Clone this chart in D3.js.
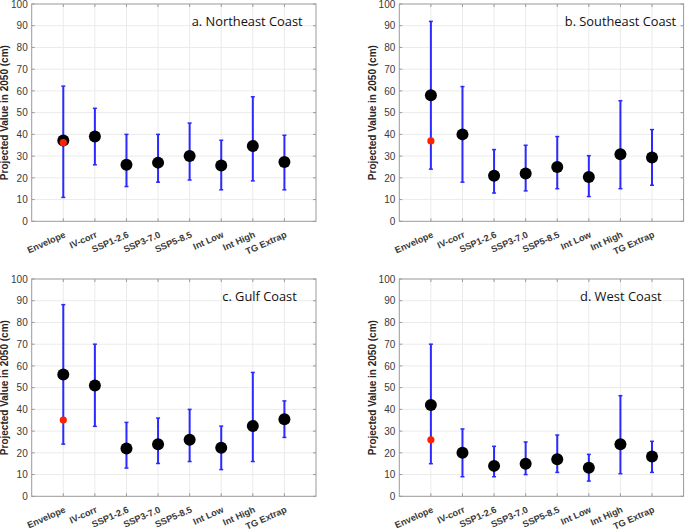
<!DOCTYPE html>
<html>
<head>
<meta charset="utf-8">
<script src="https://cdn.jsdelivr.net/npm/d3@7"></script>
<style>
  html, body { margin: 0; padding: 0; background: #fff; }
  svg { display: block; }
</style>
</head>
<body>
<svg id="chart" width="685" height="530"></svg>
<script>
// ---------------- data ----------------
const categories = ["Envelope", "IV-corr", "SSP1-2.6", "SSP3-7.0", "SSP5-8.5", "Int Low", "Int High", "TG Extrap"];
const yTicks = [0, 10, 20, 30, 40, 50, 60, 70, 80, 90, 100];
const panelTitles = ["a. Northeast Coast", "b. Southeast Coast", "c. Gulf Coast", "d. West Coast"];
const yLabel = "Projected Value in 2050 (cm)";

// a. Northeast Coast
const neCentral = [37.2, 39, 26, 27, 30, 25.7, 34.7, 27.3];
const neLow     = [11, 26, 16, 18, 19, 14.5, 18.6, 14.5];
const neHigh    = [62.2, 52, 40, 40, 45.2, 37.3, 57.3, 39.6];
const neEnvelopeRed = 36.2;

// b. Southeast Coast
const seCentral = [58, 40, 21, 22, 25, 20.4, 30.9, 29.4];
const seLow     = [24, 18, 13, 14, 15, 11.4, 15, 16.6];
const seHigh    = [92, 62, 33, 35, 39, 30.2, 55.5, 42.2];
const seEnvelopeRed = 37;

// c. Gulf Coast
const gcCentral = [56, 51, 22, 24, 26, 22.3, 32.4, 35.5];
const gcLow     = [24, 32.2, 13, 15.1, 16, 12.3, 16, 27.1];
const gcHigh    = [88.2, 70, 34, 36, 40, 32.3, 57, 43.9];
const gcEnvelopeRed = 35.1;

// d. West Coast
const wcCentral = [42, 20, 14, 15, 17, 13.1, 23.9, 18.3];
const wcLow     = [15, 9, 9, 10, 11, 7, 10.4, 11];
const wcHigh    = [70, 31, 23, 25, 28.2, 19.3, 46.3, 25.3];
const wcEnvelopeRed = 26;

const panels = [
  { title: panelTitles[0], central: neCentral, low: neLow, high: neHigh, red: neEnvelopeRed },
  { title: panelTitles[1], central: seCentral, low: seLow, high: seHigh, red: seEnvelopeRed },
  { title: panelTitles[2], central: gcCentral, low: gcLow, high: gcHigh, red: gcEnvelopeRed },
  { title: panelTitles[3], central: wcCentral, low: wcLow, high: wcHigh, red: wcEnvelopeRed }
];

// ---------------- layout ----------------
const lefts = [31.7, 399.3];
const tops = [4, 279];
const W = 284.3, H = 217.3;
// title placement: left x (px from axes left), baseline y (px from axes top), width
const titleLayout = [
  { dx: 160, dy: 22, w: 111 },
  { dx: 165.5, dy: 21.7, w: 111.4 },
  { dx: 190.6, dy: 21.5, w: 74.4 },
  { dx: 180.7, dy: 22, w: 81.7 }
];

const svg = d3.select("#chart");

panels.forEach((p, i) => {
  const col = i % 2, row = Math.floor(i / 2);
  const g = svg.append("g").attr("transform", `translate(${lefts[col]},${tops[row]})`);

  const x = d3.scalePoint().domain(["_l", ...categories, "_r"]).range([0, W]);
  const y = d3.scaleLinear().domain([0, 100]).range([H, 0]);

  // grid
  g.append("g").selectAll("line.hg").data(yTicks.slice(1, -1)).join("line")
    .attr("x1", 0).attr("x2", W).attr("y1", d => y(d)).attr("y2", d => y(d))
    .attr("stroke", "#ebebeb").attr("stroke-width", 1);
  g.append("g").selectAll("line.vg").data(categories).join("line")
    .attr("x1", d => x(d)).attr("x2", d => x(d)).attr("y1", 0).attr("y2", H)
    .attr("stroke", "#ebebeb").attr("stroke-width", 1);

  // axes: left with tick labels
  const yAxis = d3.axisLeft(y).tickValues(yTicks).tickSize(0).tickPadding(4).tickFormat(d3.format("d"));
  const ya = g.append("g").call(yAxis);
  ya.select(".domain").remove();
  ya.selectAll("text").attr("font-family", "Liberation Sans, Arial, sans-serif")
    .attr("font-size", 10).attr("fill", "#3a3a3a");

  // bottom axis with rotated category labels
  const xAxis = d3.axisBottom(x).tickValues(categories).tickSize(0).tickPadding(0);
  const xa = g.append("g").attr("transform", `translate(0,${H})`).call(xAxis);
  xa.select(".domain").remove();
  xa.selectAll("text")
    .attr("font-family", "Liberation Sans, Arial, sans-serif")
    .attr("font-size", 9.2).attr("font-weight", "bold").attr("fill", "#3a3a3a")
    .attr("text-anchor", "end").attr("dy", 0).attr("y", 0)
    .attr("transform", "translate(2.5,15.5) rotate(-24)");

  // inward ticks on all sides
  const tk = g.append("g").attr("stroke", "#9a9a9a").attr("stroke-width", 1);
  yTicks.forEach(t => {
    tk.append("line").attr("x1", 0).attr("x2", 3).attr("y1", y(t)).attr("y2", y(t));
    tk.append("line").attr("x1", W).attr("x2", W - 3).attr("y1", y(t)).attr("y2", y(t));
  });
  categories.forEach(c => {
    tk.append("line").attr("x1", x(c)).attr("x2", x(c)).attr("y1", H).attr("y2", H - 3);
    tk.append("line").attr("x1", x(c)).attr("x2", x(c)).attr("y1", 0).attr("y2", 3);
  });

  // frame
  g.append("rect").attr("x", 0).attr("y", 0).attr("width", W).attr("height", H)
    .attr("fill", "none").attr("stroke", "#9a9a9a").attr("stroke-width", 1);

  // y label
  g.append("text")
    .attr("transform", `translate(-23.5,${H / 2}) rotate(-90)`)
    .attr("text-anchor", "middle")
    .attr("font-family", "Liberation Sans, Arial, sans-serif")
    .attr("font-size", 10).attr("font-weight", "bold").attr("fill", "#262626")
    .text(yLabel);

  // title
  const tl = titleLayout[i];
  g.append("text").attr("x", tl.dx).attr("y", tl.dy)
    .attr("font-family", "Open Sans, sans-serif").attr("font-size", 12.8)
    .attr("fill", "#111").attr("textLength", tl.w).attr("lengthAdjust", "spacingAndGlyphs")
    .text(p.title);

  // error bars
  const rows = categories.map((c, k) => ({ c, v: p.central[k], lo: p.low[k], hi: p.high[k] }));
  const eb = g.append("g").attr("stroke", "#2a2aff").attr("stroke-width", 2);
  eb.selectAll("line.bar").data(rows).join("line")
    .attr("x1", d => x(d.c)).attr("x2", d => x(d.c))
    .attr("y1", d => y(d.lo)).attr("y2", d => y(d.hi));
  eb.selectAll("line.capH").data(rows).join("line").attr("class", "capH")
    .attr("x1", d => x(d.c) - 2).attr("x2", d => x(d.c) + 2)
    .attr("y1", d => y(d.hi)).attr("y2", d => y(d.hi)).attr("stroke-width", 1.5);
  eb.selectAll("line.capL").data(rows).join("line").attr("class", "capL")
    .attr("x1", d => x(d.c) - 2).attr("x2", d => x(d.c) + 2)
    .attr("y1", d => y(d.lo)).attr("y2", d => y(d.lo)).attr("stroke-width", 1.5);

  // central dots
  g.append("g").selectAll("circle").data(rows).join("circle")
    .attr("cx", d => x(d.c)).attr("cy", d => y(d.v)).attr("r", 6)
    .attr("fill", "#000");

  // red envelope dot
  g.append("circle").attr("cx", x(categories[0])).attr("cy", y(p.red)).attr("r", 3.6)
    .attr("fill", "#ff2200");
});
</script>
</body>
</html>
